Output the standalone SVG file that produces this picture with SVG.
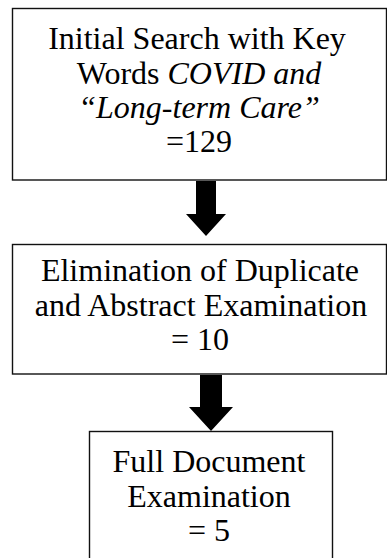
<svg xmlns="http://www.w3.org/2000/svg" width="387" height="558" viewBox="0 0 387 558">
  <style>
    .box { fill: #ffffff; stroke: #111111; stroke-width: 1.4; }
    .label { font-family: "Liberation Serif", Tinos, "Times New Roman", "DejaVu Serif", serif; font-size: 32px; fill: #000000; text-anchor: middle; }
    .it { font-style: italic; }
    .arrow { fill: #000000; }
  </style>
  <rect width="387" height="558" fill="#ffffff"/>

  <g id="connectors">
    <path class="arrow" d="M196,181 H216 V214 H226 L206,236 L186,214 H196 Z"/>
    <path class="arrow" d="M200,375 H222 V407 H233 L211,431 L189,407 H200 Z"/>
  </g>

  <g id="initial-search">
    <rect class="box" x="12.5" y="8.5" width="374" height="171.5"/>
    <text class="label" x="197" y="49">Initial Search with Key</text>
    <text class="label" x="199" y="84">Words <tspan class="it">COVID and</tspan></text>
    <text class="label it" x="199" y="118">“Long-term Care”</text>
    <text class="label" x="199" y="152">=129</text>
  </g>

  <g id="duplicate-elimination">
    <rect class="box" x="12.5" y="244.5" width="374" height="129.5"/>
    <text class="label" x="200" y="281">Elimination of Duplicate</text>
    <text class="label" x="201" y="316">and Abstract Examination</text>
    <text class="label" x="200" y="350">= 10</text>
  </g>

  <g id="full-document">
    <rect class="box" x="89.5" y="431.5" width="243" height="140"/>
    <text class="label" x="209" y="472">Full Document</text>
    <text class="label" x="209" y="507">Examination</text>
    <text class="label" x="209" y="541">= 5</text>
  </g>
</svg>
